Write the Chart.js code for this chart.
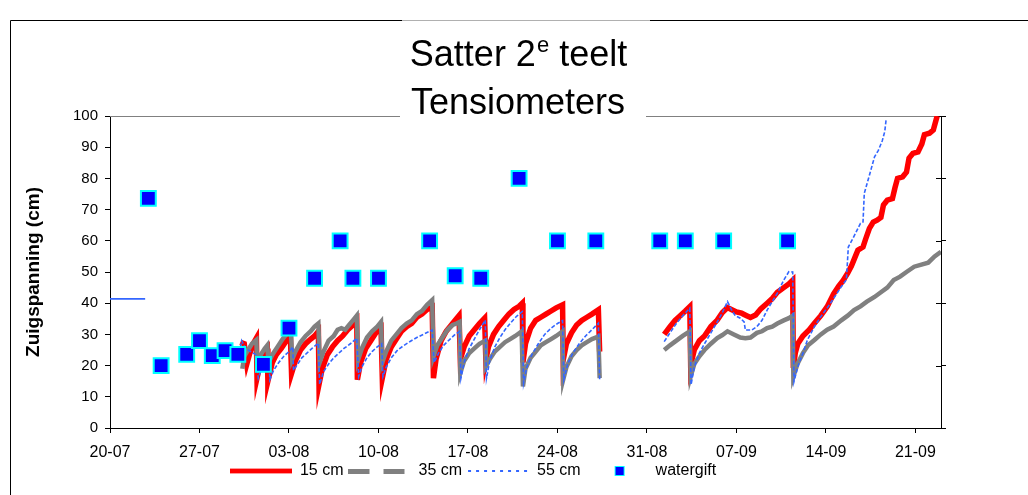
<!DOCTYPE html>
<html>
<head>
<meta charset="utf-8">
<title>Satter 2e teelt - Tensiometers</title>
<script src="https://cdn.jsdelivr.net/npm/chart.js@4.4.1/dist/chart.umd.min.js"></script>
<style>
  html, body { margin: 0; padding: 0; background: #fff; }
  canvas { display: block; }
</style>
</head>
<body>
<canvas id="tensioChart" width="1028" height="495"></canvas>
<script>
// x-as: dagen sinds 20-07
const xTickDays = [0, 7, 14, 21, 28, 35, 42, 49, 56, 63];
const xTickLabels = ['20-07', '27-07', '03-08', '10-08', '17-08', '24-08', '31-08', '07-09', '14-09', '21-09'];

// tensiometer 15 cm (null = geen meting)
const t15 = [10.2, 10.5, 10.7, 10.9, 11.2, 11.45, 11.5, 11.8, 12.1, 12.3, 12.35, 12.7, 13.0, 13.4, 13.8, 14.1, 14.2, 14.5, 14.9, 15.3,
  15.7, 16.0, 16.3, 16.35, 16.6, 17.0, 17.4, 17.8, 18.2, 18.6, 19.0, 19.3, 19.35, 19.6, 20.0, 20.4, 20.8, 21.2, 21.3, 21.6,
  22.0, 22.4, 22.8, 23.2, 23.6, 24.0, 24.4, 24.8, 25.2, 25.3, 25.5, 25.9, 26.3, 26.7, 27.0, 27.3, 27.4, 27.7, 28.1, 28.5,
  28.9, 29.3, 29.4, 29.6, 30.0, 30.4, 30.8, 31.2, 31.6, 32.0, 32.25, 32.3, 32.5, 32.9, 33.3, 33.7, 34.1, 34.5, 34.9, 35.4,
  35.45, 35.7, 36.1, 36.5, 36.9, 37.3, 37.7, 38.2, 38.3, 38.35,
  43.35, 43.8, 44.2, 44.6, 45.0, 45.35, 45.42, 45.7, 46.1, 46.5, 47.0, 47.5, 47.9, 48.3, 48.6, 49.0, 49.4, 49.8, 50.1, 50.5,
  50.9, 51.4, 51.8, 52.2, 52.7, 53.1, 53.4, 53.45, 53.6, 53.8, 54.2, 54.7, 55.1, 55.6, 56.1, 56.6, 57.0, 57.3, 57.7, 58.0,
  58.3, 58.5, 58.9, 59.1, 59.4, 59.7, 60.0, 60.3, 60.5, 60.8, 61.2, 61.4, 61.6, 62.0, 62.3, 62.5, 62.8, 63.2, 63.5, 63.7,
  64.1, 64.4, 64.7];
const v15 = [27.5, 27, 20.5, 23.5, 27, 28.8, 16, 21.5, 24.5, 25.5, 15, 21, 23.5, 25.5, 28, 30.5, 17.5, 21.5, 25, 27,
  28.5, 29.5, 31, 14, 19, 23.5, 26, 28, 29.5, 31.5, 33, 34.5, 15.5, 21, 25.5, 28, 30.5, 32, 16, 22,
  26, 28.5, 31, 32.5, 33.5, 35.5, 36.5, 38, 38.8, 16, 22, 28, 31, 33, 34.5, 36, 22, 26, 29.5, 31.5,
  33.5, 35.2, 21.8, 26, 30, 32.5, 34.5, 36.5, 38, 39, 40, 21, 27, 32, 34.5, 35.5, 36.5, 37.5, 38.5, 39.5,
  21.8, 27, 30.5, 33, 34.5, 35.5, 36.5, 37.9, 24.5, null,
  30, 32.5, 34.5, 36, 37.5, 38.9, 20.2, 25, 28, 29.5, 32.5, 34.6, 37, 38.6, 38, 37.2, 36.8, 36, 35.4, 36.2,
  38.2, 40, 41.5, 43.5, 45, 46.2, 47.4, 19.2, 24, 27, 29.5, 31.5, 33.6, 36, 38.9, 43, 45.5, 47, 49.6, 52,
  55, 57, 58, 60.5, 64, 66, 66.6, 67.5, 71.5, 73, 73.5, 77, 80, 80.5, 82, 86.5, 88, 88.5, 91, 94,
  94.5, 95.5, 100];

// tensiometer 35 cm
const t35 = [10.35, 10.5, 10.8, 11.1, 11.45, 11.5, 11.8, 12.1, 12.3, 12.4, 12.7, 13.1, 13.5, 13.8, 14.15, 14.25, 14.5, 14.9, 15.3, 15.7,
  16.0, 16.3, 16.4, 16.7, 17.1, 17.5, 17.8, 18.1, 18.4, 18.7, 19.0, 19.3, 19.4, 19.7, 20.1, 20.5, 20.9, 21.2, 21.3, 21.6,
  22.0, 22.4, 22.8, 23.2, 23.6, 24.0, 24.4, 24.8, 25.2, 25.3, 25.6, 26.0, 26.4, 26.8, 27.1, 27.35, 27.4, 27.7, 28.1, 28.5,
  28.9, 29.35, 29.4, 29.7, 30.1, 30.5, 30.9, 31.3, 31.7, 32.2, 32.3, 32.5, 32.9, 33.3, 33.7, 34.1, 34.5, 34.9, 35.4, 35.45,
  35.7, 36.1, 36.5, 36.9, 37.3, 37.7, 38.2, 38.3, 38.35,
  43.35, 43.8, 44.3, 44.8, 45.35, 45.42, 45.7, 46.1, 46.5, 47.0, 47.5, 47.9, 48.3, 48.8, 49.3, 49.7, 50.1, 50.6, 51.0, 51.4,
  51.8, 52.2, 52.7, 53.1, 53.4, 53.45, 53.8, 54.2, 54.6, 55.1, 55.6, 56.1, 56.6, 57.2, 57.7, 58.2, 58.7, 59.2, 59.8, 60.3,
  60.8, 61.3, 61.8, 62.3, 62.9, 63.4, 64.0, 64.5, 65.0];
const v35 = [19, 23, 25, 27, 28.2, 21, 23.5, 25.5, 26.5, 21, 23.5, 26, 28.5, 30, 31.5, 22, 24.5, 27.5, 29.5, 31,
  32.5, 33.5, 21, 24.5, 28, 29.5, 31.5, 32, 31.5, 33, 34.5, 36, 21.8, 25.5, 29, 31, 32.5, 34, 21, 24.5,
  28, 30, 32, 33.5, 34.5, 36.5, 37.5, 39.5, 41, 22.9, 26.5, 29, 31.5, 33, 33.5, 34, 17.6, 21.5, 24, 25.5,
  27, 28, 19.7, 22, 24.5, 26, 27.5, 28.5, 29.5, 31, 13.3, 19, 22.5, 24.5, 26.5, 27.5, 28.5, 29.5, 31, 15.5,
  19.5, 23, 25, 26.5, 27.5, 28.5, 29.3, 16, null,
  25, 26.5, 28, 29.5, 31, 16.5, 20.5, 23, 25, 27, 28.8, 29.8, 31, 30, 29, 28.8, 29, 30.5, 31, 32,
  32.5, 33.5, 34.5, 35.2, 36, 16.5, 20.8, 24, 26.5, 28.2, 30, 31.5, 32.5, 34.5, 36, 37.8, 39, 40.5, 42, 43.5,
  45, 47.4, 48.5, 50, 51.7, 52.3, 53, 55, 56.5];

// tensiometer 55 cm
const t55 = [0, 2.75, 2.8,
  10.1, 10.3, 10.6, 11.0, 11.4, 11.6, 11.9, 12.2, 12.45, 12.5, 12.8, 13.2, 13.6, 14.0, 14.3, 14.35, 14.6, 15.0, 15.4, 15.8,
  16.3, 16.4, 16.7, 17.1, 17.5, 17.9, 18.3, 18.8, 19.3, 19.45, 19.7, 20.1, 20.5, 20.9, 21.25, 21.35, 21.6, 22.0, 22.5, 23.0,
  23.5, 24.0, 24.6, 25.2, 25.35, 25.7, 26.1, 26.6, 27.0, 27.35, 27.45, 27.7, 28.1, 28.5, 28.9, 29.35, 29.45, 29.7, 30.1, 30.5,
  30.9, 31.4, 31.8, 32.25, 32.35, 32.6, 33.0, 33.5, 34.0, 34.5, 35.0, 35.4, 35.5, 35.8, 36.2, 36.7, 37.2, 37.7, 38.2, 38.3,
  38.35,
  43.35, 43.8, 44.3, 44.8, 45.35, 45.45, 45.7, 46.1, 46.5, 47.0, 47.5, 47.9, 48.3, 48.6, 48.9, 49.3, 49.6, 49.7, 50.2, 50.6,
  51.0, 51.4, 51.8, 52.2, 52.7, 53.1, 53.4, 53.5, 53.8, 54.2, 54.55, 55.1, 55.6, 56.1, 56.6, 57.2, 57.6, 57.75, 58.2, 58.7,
  58.9, 59.0, 59.4, 59.8, 60.1, 60.4, 60.6, 60.7];
const v55 = [41.4, 41.4, null,
  24, 28, 25.5, 24.5, 23.5, 16, 19.5, 21.5, 22.5, 15.5, 18.5, 21, 23, 24.5, 26, 18.5, 20, 22.5, 24, 25.5,
  27.2, 14, 18, 20.5, 22.5, 24, 25.5, 27, 28.8, 16.5, 19.5, 22.5, 24.5, 26, 27, 16.5, 19.5, 22.5, 25, 26.5,
  27.8, 29, 30.2, 31.4, 21, 24, 26.5, 28.5, 30, 31, 16, 21, 25.5, 28.5, 31.5, 34.6, 16, 21.5, 26, 29,
  31.5, 34, 35.8, 37.3, 14.4, 19.5, 23.5, 27, 30, 32, 33.5, 34.4, 15.5, 20.5, 24, 27, 29.5, 31.5, 33.6, 15.5,
  null,
  27.7, 30.5, 33.5, 36, 38.4, 13.9, 19.5, 24, 27, 30.5, 34, 37, 40.5, 38, 36, 35.2, 34, 31.4, 31.4, 32.5,
  34.5, 37.8, 40.5, 43.2, 47.4, 50.1, 50, 14.9, 19.7, 24, 28.2, 32.5, 35.7, 38.5, 41.5, 45.3, 47.5, 58, 61.5, 65.6,
  66, 75.2, 81, 86.9, 89, 92, 95, 98.6];

// watergift (rechter as)
const tGift = [3, 4, 6, 7, 8, 9, 10, 12, 14, 16, 18, 19, 21, 25, 27, 29, 32, 35, 38, 43, 45, 48, 53];
const vGift = [18.4, 5, 5.9, 7, 5.8, 6.2, 5.9, 5.1, 8, 12, 15, 12, 12, 15, 12.2, 12, 20, 15, 15, 15, 15, 15, 15];

function toPoints(t, v) {
  return t.map((d, i) => ({ x: d, y: v[i] }));
}

// kleine plaatjes voor de legenda
function makeIcon(w, h, draw) {
  const c = document.createElement('canvas');
  c.width = w;
  c.height = h;
  draw(c.getContext('2d'));
  return c;
}
const legendIcons = [
  makeIcon(62, 6, g => {
    g.fillStyle = '#ff9a9a'; g.fillRect(0, 0, 62, 6);
    g.fillStyle = '#ff0000'; g.fillRect(0, 1, 62, 4);
  }),
  makeIcon(62, 5, g => {
    g.fillStyle = '#808080';
    g.fillRect(0, 0, 21, 5);
    g.fillRect(35, 0, 21, 5);
  }),
  makeIcon(62, 2, g => {
    g.fillStyle = '#3366ff';
    for (let x = 1; x < 62; x += 8) g.fillRect(x, 0, 3, 2);
  }),
  makeIcon(62, 10, g => {
    g.fillStyle = '#00ffff'; g.fillRect(29, 0, 10, 10);
    g.fillStyle = '#0000ff'; g.fillRect(30, 1, 8, 8);
  })
];

// kader, titel en bovenrand van het plotvlak
const decorPlugin = {
  id: 'decor',
  beforeDraw(chart) {
    const c = chart.ctx;
    c.save();
    c.fillStyle = '#fff';
    c.fillRect(0, 0, chart.width, chart.height);
    c.strokeStyle = '#000';
    c.lineWidth = 1;
    c.beginPath();
    c.moveTo(10.5, chart.height);
    c.lineTo(10.5, 20.5);
    c.lineTo(402, 20.5);
    c.moveTo(650, 20.5);
    c.lineTo(chart.width, 20.5);
    c.stroke();
    c.strokeStyle = '#b0b0b0';
    c.beginPath();
    c.moveTo(402, 20.5);
    c.lineTo(650, 20.5);
    c.stroke();
    c.restore();
  },
  beforeDatasetsDraw(chart) {
    const { left, right, top } = chart.chartArea;
    const c = chart.ctx;
    c.save();
    c.strokeStyle = '#808080';
    c.lineWidth = 1;
    c.beginPath();
    c.moveTo(left, top + 0.5);
    c.lineTo(400, top + 0.5);
    c.moveTo(646, top + 0.5);
    c.lineTo(right, top + 0.5);
    c.stroke();
    // rechter as: streepjes ook naar binnen
    const y1 = chart.scales.y1;
    c.strokeStyle = '#000';
    c.beginPath();
    y1.ticks.forEach(t => {
      const py = Math.round(y1.getPixelForValue(t.value)) + 0.5;
      c.moveTo(right - 5, py);
      c.lineTo(right, py);
    });
    c.stroke();
    c.restore();
  },
  afterDraw(chart) {
    const c = chart.ctx;
    const cx = 518;
    c.save();
    c.fillStyle = '#000';
    c.textBaseline = 'alphabetic';
    const big = "36px 'Liberation Sans', Arial, sans-serif";
    const small = "22px 'Liberation Sans', Arial, sans-serif";
    c.font = big;
    const a = 'Satter 2', b = ' teelt';
    const wa = c.measureText(a).width, wb = c.measureText(b).width;
    c.font = small;
    const ws = c.measureText('e').width;
    let x = cx - (wa + ws + wb) / 2;
    c.font = big;
    c.fillText(a, x, 66);
    c.font = small;
    c.fillText('e', x + wa + 1, 52);
    c.font = big;
    c.fillText(b, x + wa + ws + 1, 66);
    c.textAlign = 'center';
    c.fillText('Tensiometers', cx, 114);
    c.restore();
  }
};

Chart.defaults.font.family = "'Liberation Sans', Arial, sans-serif";
Chart.defaults.color = '#000';

const ctx = document.getElementById('tensioChart').getContext('2d');
const tensioChart = new Chart(ctx, {
  type: 'line',
  data: {
    datasets: [
      {
        label: '15 cm',
        data: toPoints(t15, v15),
        borderColor: '#ff0000',
        borderWidth: 5.5,
        pointRadius: 0,
        order: 3,
        yAxisID: 'y'
      },
      {
        label: '35 cm',
        data: toPoints(t35, v35),
        borderColor: '#808080',
        borderWidth: 4.5,
        pointRadius: 0,
        order: 2,
        yAxisID: 'y'
      },
      {
        label: '55 cm',
        data: toPoints(t55, v55),
        borderColor: '#3366ff',
        borderWidth: 1.6,
        borderDash: [4, 2],
        // het korte stuk aan het begin is doorgetrokken
        segment: { borderDash: s => (s.p0.parsed.x < 5 ? [] : undefined) },
        pointRadius: 0,
        order: 1,
        yAxisID: 'y'
      },
      {
        label: 'watergift',
        data: toPoints(tGift, vGift),
        showLine: false,
        pointStyle: 'rect',
        pointRadius: 10.5,
        pointBackgroundColor: '#0000ff',
        pointBorderColor: '#00ffff',
        pointBorderWidth: 2,
        order: 0,
        yAxisID: 'y1'
      }
    ]
  },
  options: {
    responsive: false,
    animation: false,
    spanGaps: false,
    layout: { padding: { left: 0, top: 116, right: 82, bottom: 6 } },
    plugins: {
      title: { display: false },
      tooltip: { enabled: false },
      legend: {
        position: 'bottom',
        labels: {
          usePointStyle: true,
          pointStyleWidth: 62,
          padding: 5,
          color: '#000',
          font: { size: 16 },
          sort: (a, b) => a.datasetIndex - b.datasetIndex,
          generateLabels(chart) {
            const items = Chart.defaults.plugins.legend.labels.generateLabels(chart);
            items.forEach(item => { item.pointStyle = legendIcons[item.datasetIndex]; });
            return items;
          }
        }
      }
    },
    scales: {
      x: {
        type: 'linear',
        min: 0,
        max: 65,
        afterBuildTicks: scale => { scale.ticks = xTickDays.map(v => ({ value: v })); },
        afterFit: scale => { scale.height = 30; },
        grid: { drawOnChartArea: false, color: '#000', tickLength: 5 },
        border: { color: '#000' },
        ticks: {
          autoSkip: false,
          maxRotation: 0,
          padding: 10,
          font: { size: 16 },
          callback: (value, index) => xTickLabels[index]
        }
      },
      y: {
        position: 'left',
        min: 0,
        max: 100,
        afterFit: scale => { scale.width = 110; },
        grid: { drawOnChartArea: false, color: '#000', tickLength: 5 },
        border: { color: '#000' },
        ticks: { stepSize: 10, padding: 7, font: { size: 15 } },
        title: {
          display: true,
          text: 'Zuigspanning (cm)',
          font: { size: 19, weight: 'bold' },
          padding: { top: 22, bottom: 0 }
        }
      },
      y1: {
        position: 'right',
        min: 0,
        max: 25,
        afterFit: scale => { scale.width = 5; },
        grid: { drawOnChartArea: false, color: '#000', tickLength: 5 },
        border: { color: '#000' },
        ticks: { stepSize: 5, padding: 10, font: { size: 18 } }
      }
    }
  },
  plugins: [decorPlugin]
});
</script>
</body>
</html>
